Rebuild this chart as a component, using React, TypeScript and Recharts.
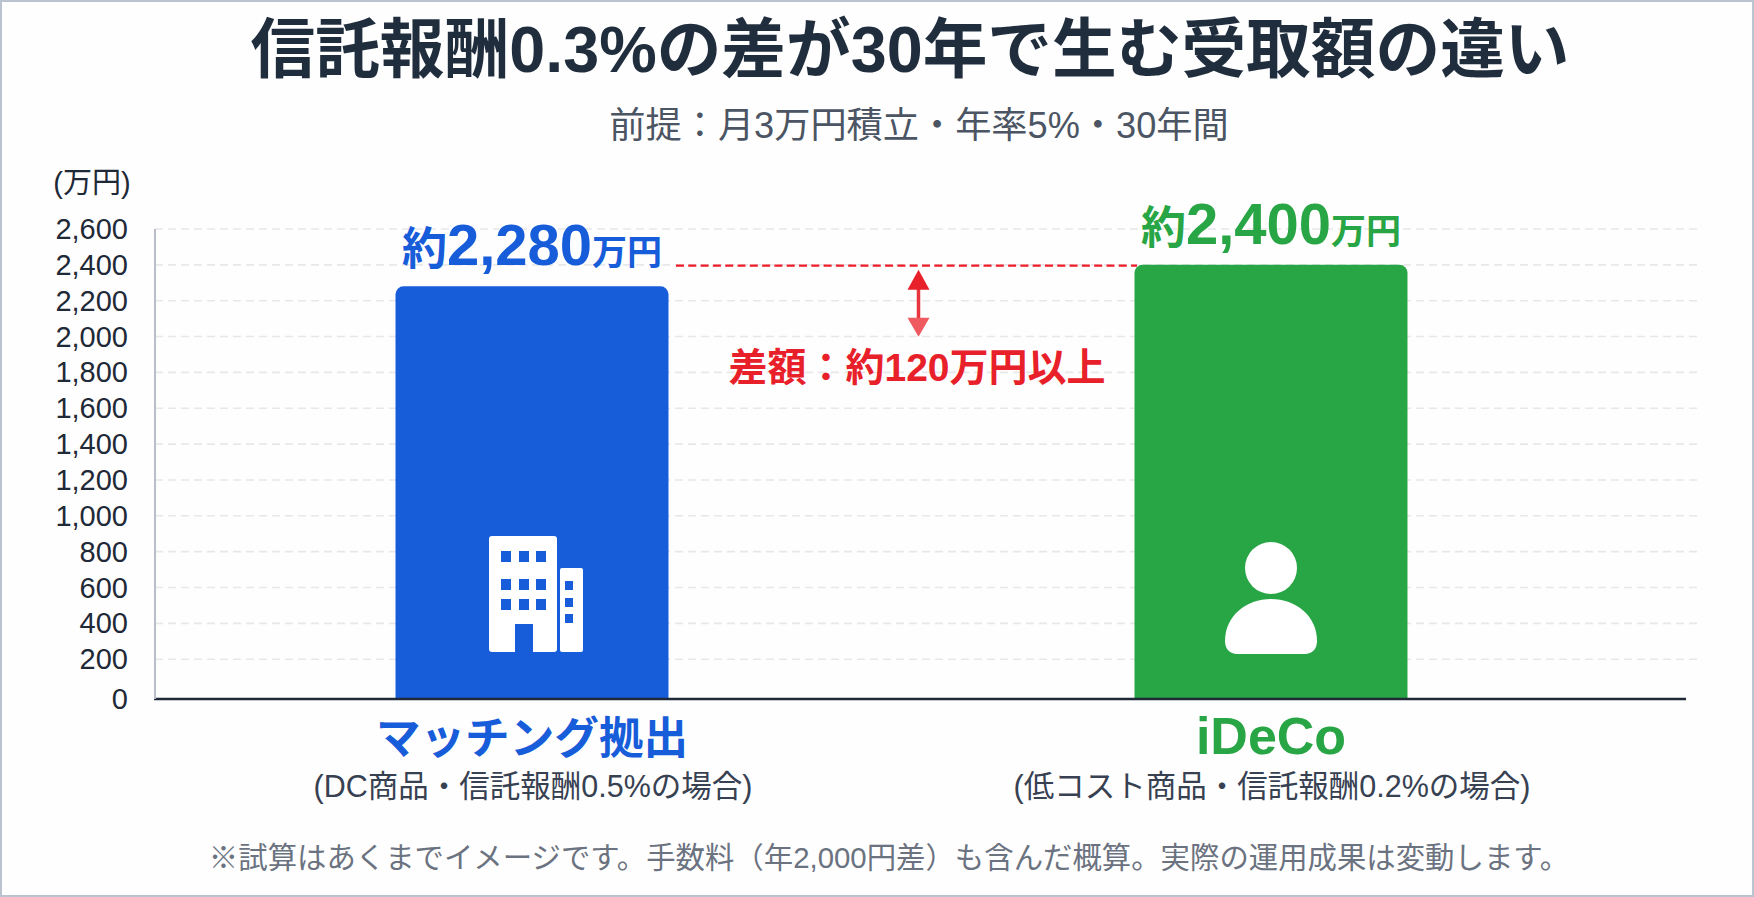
import React from "react";
import { BarChart, Bar, XAxis, YAxis, CartesianGrid, ReferenceLine, LabelList, Rectangle } from "recharts";

const categories = ["マッチング拠出", "iDeCo"];
const subLabels = ["(DC商品・信託報酬0.5%の場合)", "(低コスト商品・信託報酬0.2%の場合)"];
const values = [2280, 2400];
const colors = ["#175cd9", "#28a544"];
const categorySizes = [44.6, 52];
const yTicks = [0, 200, 400, 600, 800, 1000, 1200, 1400, 1600, 1800, 2000, 2200, 2400, 2600];
const gridValues = [200, 400, 600, 800, 1000, 1200, 1400, 1600, 1800, 2000, 2200, 2400, 2600];
const axisFloor = -22;
const data = categories.map((name, i) => ({ name, value: values[i], span: [axisFloor, values[i]] }));

const FONT = '"Liberation Sans", "Noto Sans CJK JP", sans-serif';

const centered = (cx: number, cy: number, size: number, color: string, weight: number): React.CSSProperties => ({
  position: "absolute",
  left: cx,
  top: cy,
  transform: "translate(-50%, -50%)",
  fontSize: size,
  color,
  fontWeight: weight,
  whiteSpace: "nowrap",
  lineHeight: 1,
});

function BuildingIcon({ cx, base }: { cx: number; base: number }) {
  const ox = cx - 532;
  const oy = base - 699;
  const win = [501, 519, 536];
  const rows = [551, 579, 599];
  const side = [581, 598, 614];
  return (
    <g transform={`translate(${ox},${oy})`}>
      <rect x={489} y={536} width={68} height={116} rx={3} fill="#fff" />
      <rect x={560} y={568} width={23} height={84} rx={2} fill="#fff" />
      {rows.flatMap((y) => win.map((x) => <rect key={`${x}-${y}`} x={x} y={y} width={10} height={11} fill="#175cd9" />))}
      {side.map((y) => <rect key={y} x={565} y={y} width={8} height={9} fill="#175cd9" />)}
      <rect x={515} y={624} width={18} height={28} fill="#175cd9" />
    </g>
  );
}

function PersonIcon({ cx, base }: { cx: number; base: number }) {
  const ox = cx - 1270;
  const oy = base - 699;
  return (
    <g transform={`translate(${ox},${oy})`}>
      <circle cx={1270} cy={568} r={26} fill="#fff" />
      <path d="M1224 641 C1224 616 1245 599 1270 599 C1295 599 1316 616 1316 641 C1316 649 1311 654 1304 654 L1236 654 C1229 654 1224 649 1224 641 Z" fill="#fff" />
    </g>
  );
}

function BarShape(props: any) {
  const { x, y, width, height, index } = props;
  const cx = x + width / 2;
  const base = y + height;
  return (
    <g>
      <Rectangle x={x} y={y} width={width} height={height} radius={[8, 8, 0, 0]} fill={colors[index]} />
      {index === 0 ? <BuildingIcon cx={cx} base={base} /> : <PersonIcon cx={cx} base={base} />}
    </g>
  );
}

function ValueLabel(props: any) {
  const { x, y, width, value, index } = props;
  return (
    <text x={x + width / 2} y={y - 21} textAnchor="middle" fill={colors[index]} fontFamily={FONT} fontWeight={700}>
      <tspan fontSize={45}>約</tspan>
      <tspan fontSize={58}>{Number(value).toLocaleString("en-US")}</tspan>
      <tspan fontSize={35}>万円</tspan>
    </text>
  );
}

function CategoryTick(props: any) {
  const { x, payload, index } = props;
  return (
    <g>
      <text x={x} y={754} textAnchor="middle" fontSize={categorySizes[index]} fontWeight={700} fill={colors[index]} fontFamily={FONT}>
        {payload.value}
      </text>
      <text x={x + 1} y={797} textAnchor="middle" fontSize={30.5} fill="#374151" fontFamily={FONT}>
        {subLabels[index]}
      </text>
    </g>
  );
}

function ValueTick(props: any) {
  const { x, y, payload } = props;
  const shift = payload.value === 0 ? 4 : 0;
  return (
    <text x={x} y={y + shift + 10} textAnchor="end" fontSize={29} fill="#1f2937" fontFamily={FONT}>
      {Number(payload.value).toLocaleString("en-US")}
    </text>
  );
}

function BaseLine(props: any) {
  const { x1, x2, y1 } = props;
  return <line x1={x1 - 1} x2={x2 - 14} y1={y1} y2={y1} stroke="#1f2937" strokeWidth={2.5} />;
}

function GapMarker(props: any) {
  const y1 = props.y1 + 0.8;
  const ax = 918.5;
  const top = y1 + 4;
  return (
    <g>
      <line x1={676} x2={1137} y1={y1} y2={y1} stroke="#ee1c28" strokeWidth={2.2} strokeDasharray="8 4.3" />
      <line x1={ax} x2={ax} y1={top + 18} y2={top + 50} stroke="#e8343c" strokeWidth={3.5} />
      <path d={`M${ax} ${top} L${ax + 11} ${top + 20} L${ax - 11} ${top + 20} Z`} fill="#e8202a" />
      <path d={`M${ax} ${top + 67} L${ax + 11} ${top + 48} L${ax - 11} ${top + 48} Z`} fill="#ee5a60" />
      <text x={917} y={381} textAnchor="middle" fontSize={39} fontWeight={700} fill="#e8202a" fontFamily={FONT}>
        差額：約120万円以上
      </text>
    </g>
  );
}

export default function App() {
  return (
    <div
      style={{
        position: "absolute",
        left: 0,
        top: 0,
        width: 1754,
        height: 897,
        background: "#fefefe",
        fontFamily: FONT,
        overflow: "hidden",
        boxSizing: "border-box",
      }}
    >
      <div style={{ position: "absolute", inset: 0, border: "2px solid #bcc3d0", boxSizing: "border-box", pointerEvents: "none" }} />
      <div style={centered(910, 50, 64.7, "#1f2d3d", 700)}>信託報酬0.3%の差が30年で生む受取額の違い</div>
      <div style={centered(919, 126, 36.2, "#4b5563", 400)}>前提：月3万円積立・年率5%・30年間</div>
      <div style={centered(92, 183, 29, "#1f2937", 400)}>(万円)</div>
      <BarChart width={1754} height={897} data={data} margin={{ top: 229, right: 54, bottom: 0, left: 0 }}>
        <CartesianGrid vertical={false} stroke="#e8e8ea" strokeWidth={1.6} strokeDasharray="8 5" horizontalValues={gridValues} />
        <YAxis
          width={155}
          domain={[axisFloor, 2600]}
          ticks={yTicks}
          interval={0}
          tickSize={0}
          tickMargin={27}
          tick={<ValueTick />}
          axisLine={{ stroke: "#b9bec7", strokeWidth: 2 }}
        />
        <XAxis
          dataKey="name"
          height={198}
          axisLine={false}
          tickLine={false}
          padding={{ left: 7.5, right: 59.5 }}
          interval={0}
          tick={<CategoryTick />}
        />
        <Bar dataKey="span" barSize={273} isAnimationActive={false} shape={<BarShape />}>
          <LabelList dataKey="value" content={<ValueLabel />} />
        </Bar>
        <ReferenceLine y={axisFloor} shape={<BaseLine />} />
        <ReferenceLine y={2400} shape={<GapMarker />} />
      </BarChart>
      <div style={centered(889, 858, 29.4, "#6b7280", 400)}>※試算はあくまでイメージです。手数料（年2,000円差）も含んだ概算。実際の運用成果は変動します。</div>
    </div>
  );
}
